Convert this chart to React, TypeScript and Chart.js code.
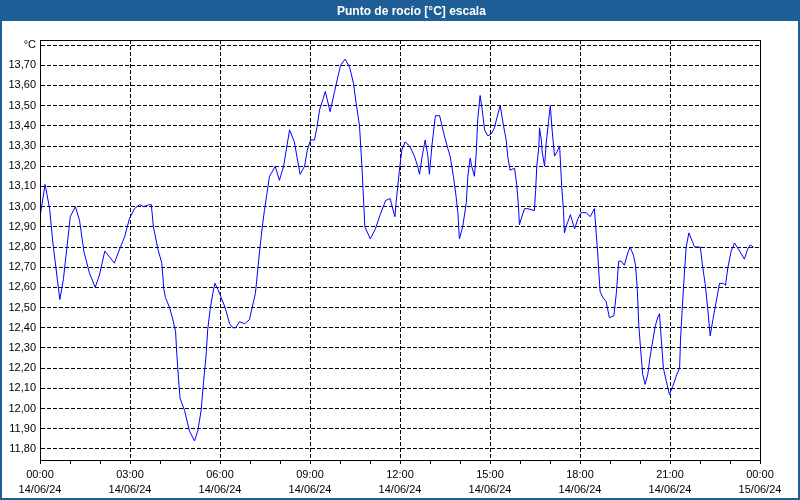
import React, { useEffect, useRef } from 'react';
import { Chart, registerables } from 'chart.js';

Chart.register(...registerables);

const TITLE = 'Punto de rocío [°C] escala';
const UNIT_LABEL = '°C';

// sample times (hours since 14/06/24 00:00)
const HOURS = [
  0.00, 0.17, 0.32, 0.43, 0.66, 0.78, 1.01, 1.18, 1.32, 1.46, 1.65, 1.84, 1.98, 2.16, 2.48, 2.63, 2.82, 2.98,
  3.15, 3.32, 3.45, 3.65, 3.71, 3.78, 3.93, 4.06, 4.13, 4.18, 4.32, 4.43, 4.52, 4.56, 4.62, 4.67, 4.82, 4.98,
  5.15, 5.26, 5.37, 5.45, 5.54, 5.59, 5.67, 5.76, 5.83, 5.93, 6.04, 6.17, 6.32, 6.43, 6.52, 6.65, 6.82, 6.98,
  7.07, 7.18, 7.26, 7.32, 7.41, 7.48, 7.56, 7.65, 7.73, 7.84, 7.98, 8.12, 8.23, 8.32, 8.48, 8.56, 8.67, 8.82,
  8.91, 9.02, 9.15, 9.23, 9.32, 9.43, 9.51, 9.67, 9.82, 9.91, 10.02, 10.17, 10.32, 10.45, 10.54, 10.65, 10.73,
  10.78, 10.83, 11.01, 11.18, 11.34, 11.52, 11.67, 11.74, 11.83, 11.87, 11.98, 12.06, 12.17, 12.32, 12.48,
  12.59, 12.65, 12.74, 12.84, 12.93, 12.98, 13.07, 13.18, 13.32, 13.48, 13.59, 13.67, 13.78, 13.87, 13.93,
  13.98, 14.09, 14.21, 14.26, 14.34, 14.39, 14.48, 14.54, 14.59, 14.67, 14.74, 14.82, 14.93, 15.04, 15.15,
  15.23, 15.34, 15.45, 15.54, 15.59, 15.67, 15.82, 15.89, 15.95, 15.98, 16.04, 16.15, 16.26, 16.48, 16.52,
  16.56, 16.63, 16.65, 16.71, 16.74, 16.82, 16.87, 16.95, 17.01, 17.07, 17.15, 17.23, 17.32, 17.39, 17.45,
  17.48, 17.56, 17.68, 17.82, 17.93, 18.04, 18.21, 18.34, 18.48, 18.54, 18.59, 18.63, 18.67, 18.76, 18.87,
  18.98, 19.13, 19.21, 19.29, 19.37, 19.48, 19.59, 19.67, 19.78, 19.85, 19.91, 19.96, 20.04, 20.09, 20.17,
  20.26, 20.34, 20.43, 20.51, 20.59, 20.65, 20.71, 20.78, 20.87, 20.98, 21.09, 21.23, 21.32, 21.35, 21.41,
  21.48, 21.54, 21.63, 21.71, 21.82, 22.01, 22.09, 22.17, 22.26, 22.34, 22.43, 22.54, 22.65, 22.78, 22.85,
  22.93, 23.04, 23.15, 23.32, 23.48, 23.59, 23.67, 23.78,
];

// dew point values (°C)
const DEW_POINT = [
  12.95, 13.11, 12.99, 12.82, 12.54, 12.64, 12.95, 13.00, 12.93, 12.78, 12.67, 12.60, 12.66, 12.78, 12.72, 12.78, 12.85, 12.94,
  12.99, 13.01, 13.00, 13.01, 13.01, 12.90, 12.79, 12.72, 12.59, 12.55, 12.50, 12.44, 12.38, 12.27, 12.14, 12.05, 11.99, 11.89,
  11.84, 11.89, 11.99, 12.13, 12.27, 12.39, 12.49, 12.57, 12.62, 12.59, 12.55, 12.50, 12.42, 12.40, 12.40, 12.43, 12.42, 12.44,
  12.50, 12.57, 12.69, 12.78, 12.90, 12.98, 13.06, 13.15, 13.17, 13.20, 13.13, 13.20, 13.30, 13.38, 13.32, 13.25, 13.16, 13.20,
  13.28, 13.33, 13.33, 13.39, 13.48, 13.53, 13.57, 13.47, 13.57, 13.63, 13.70, 13.73, 13.69, 13.61, 13.51, 13.40, 13.20,
  13.05, 12.90, 12.84, 12.89, 12.96, 13.03, 13.04, 13.00, 12.95, 13.02, 13.18, 13.28, 13.32, 13.30, 13.25,
  13.20, 13.16, 13.25, 13.33, 13.25, 13.16, 13.31, 13.45, 13.45, 13.35, 13.29, 13.25, 13.15, 13.05, 12.97,
  12.84, 12.90, 13.02, 13.15, 13.24, 13.20, 13.15, 13.26, 13.43, 13.55, 13.48, 13.38, 13.35, 13.36, 13.39,
  13.44, 13.50, 13.40, 13.33, 13.25, 13.18, 13.19, 13.11, 13.00, 12.91, 12.94, 12.99, 12.99, 12.98, 13.08,
  13.20, 13.30, 13.39, 13.33, 13.27, 13.20, 13.31, 13.42, 13.50, 13.38, 13.25, 13.27, 13.30, 13.10, 12.98,
  12.87, 12.91, 12.96, 12.89, 12.94, 12.97, 12.97, 12.95, 12.99, 12.87, 12.77, 12.67, 12.58, 12.55, 12.53,
  12.45, 12.46, 12.57, 12.73, 12.73, 12.71, 12.77, 12.80, 12.76, 12.71, 12.59, 12.41, 12.26, 12.17, 12.12,
  12.17, 12.26, 12.34, 12.41, 12.45, 12.47, 12.34, 12.20, 12.14, 12.07, 12.11, 12.17, 12.20, 12.34, 12.50,
  12.67, 12.80, 12.87, 12.84, 12.80, 12.80, 12.70, 12.62, 12.49, 12.36, 12.44, 12.53, 12.62, 12.62, 12.61,
  12.70, 12.78, 12.82, 12.78, 12.74, 12.79, 12.81, 12.80,
];

const Y_TICKS = [
  11.8, 11.9, 12.0, 12.1, 12.2, 12.3, 12.4, 12.5, 12.6, 12.7, 12.8, 12.9, 13.0, 13.1, 13.2, 13.3, 13.4, 13.5, 13.6, 13.7, 13.8,
];
const X_TICKS = [0, 1, 2, 3, 4, 5, 6, 7, 8, 9, 10, 11, 12, 13, 14, 15, 16, 17, 18, 19, 20, 21, 22, 23, 24];
const TIME_LABELS = ['00:00', '03:00', '06:00', '09:00', '12:00', '15:00', '18:00', '21:00', '00:00'];
const DATE_LABELS = ['14/06/24', '14/06/24', '14/06/24', '14/06/24', '14/06/24', '14/06/24', '14/06/24', '14/06/24', '15/06/24'];

const Y_MIN = 11.7455;
const Y_MAX = 13.8248;

const BLUE = '#1d5e96';
const FONT_FAMILY = '"Liberation Sans", Arial, sans-serif';

const framePlugin = {
  id: 'frame',
  beforeDraw(chart: any) {
    const { ctx, width, height } = chart;
    ctx.save();
    ctx.fillStyle = '#ffffff';
    ctx.fillRect(0, 0, width, height);
    ctx.fillStyle = BLUE;
    ctx.fillRect(0, 0, width, 21);
    ctx.strokeStyle = BLUE;
    ctx.lineWidth = 2;
    ctx.strokeRect(1, 1, width - 2, height - 2);
    ctx.fillStyle = '#ffffff';
    ctx.font = 'bold 12px ' + FONT_FAMILY;
    ctx.textAlign = 'left';
    ctx.textBaseline = 'alphabetic';
    ctx.fillText(TITLE, 337, 15);
    ctx.restore();
  },
  afterDraw(chart: any) {
    const { ctx, chartArea } = chart;
    ctx.save();
    ctx.strokeStyle = '#000000';
    ctx.lineWidth = 1;
    ctx.setLineDash([]);
    ctx.strokeRect(
      Math.round(chartArea.left) + 0.5,
      Math.round(chartArea.top) + 0.5,
      Math.round(chartArea.right) - Math.round(chartArea.left),
      Math.round(chartArea.bottom) - Math.round(chartArea.top)
    );
    ctx.restore();
  },
};

export default function App() {
  const canvasRef = useRef<HTMLCanvasElement | null>(null);

  useEffect(() => {
    if (!canvasRef.current) return;
    const points = HOURS.map((h, i) => ({ x: h, y: DEW_POINT[i] }));
    const chart = new Chart(canvasRef.current, {
      type: 'line',
      data: {
        datasets: [
          {
            data: points,
            borderColor: '#0000ff',
            borderWidth: 1,
            pointRadius: 0,
            tension: 0,
            fill: false,
          },
        ],
      },
      options: {
        animation: false,
        responsive: false,
        devicePixelRatio: 1,
        layout: { padding: { top: 40, right: 40, left: 0, bottom: 0 } },
        plugins: {
          legend: { display: false },
          tooltip: { enabled: false },
          title: { display: false },
        },
        scales: {
          x: {
            type: 'linear',
            min: 0,
            max: 24,
            afterFit: (s: any) => {
              s.height = 40;
            },
            afterBuildTicks: (s: any) => {
              s.ticks = X_TICKS.map((v) => ({ value: v }));
            },
            ticks: {
              autoSkip: false,
              maxRotation: 0,
              minRotation: 0,
              padding: 3,
              color: '#000000',
              font: { family: FONT_FAMILY, size: 11, lineHeight: 15 / 11 },
              callback: (v: any) => {
                const h = Math.round(Number(v));
                if (h % 3 !== 0) return '';
                const i = h / 3;
                return [TIME_LABELS[i], DATE_LABELS[i]];
              },
            },
            grid: {
              color: (c: any) =>
                c.tick && Math.round(c.tick.value) % 3 === 0 ? '#000000' : 'rgba(0,0,0,0)',
              tickColor: '#000000',
              tickLength: 4,
              lineWidth: 1,
            },
            border: { display: true, color: '#000000', dash: [4, 2] },
          },
          y: {
            type: 'linear',
            min: Y_MIN,
            max: Y_MAX,
            afterFit: (s: any) => {
              s.width = 40;
            },
            afterBuildTicks: (s: any) => {
              s.ticks = Y_TICKS.map((v) => ({ value: v }));
            },
            ticks: {
              padding: 4,
              color: '#000000',
              font: { family: FONT_FAMILY, size: 11 },
              callback: (v: any) => {
                const n = Number(v);
                if (n > 13.75) return UNIT_LABEL;
                return n.toFixed(2).replace('.', ',');
              },
            },
            grid: { color: '#000000', drawTicks: false, lineWidth: 1 },
            border: { display: true, color: '#000000', dash: [4, 2] },
          },
        },
      },
      plugins: [framePlugin],
    } as any);
    return () => chart.destroy();
  }, []);

  return (
    <div style={{ position: 'fixed', left: 0, top: 0, width: 800, height: 500, background: '#ffffff' }}>
      <canvas ref={canvasRef} width={800} height={500} style={{ display: 'block' }} />
    </div>
  );
}
